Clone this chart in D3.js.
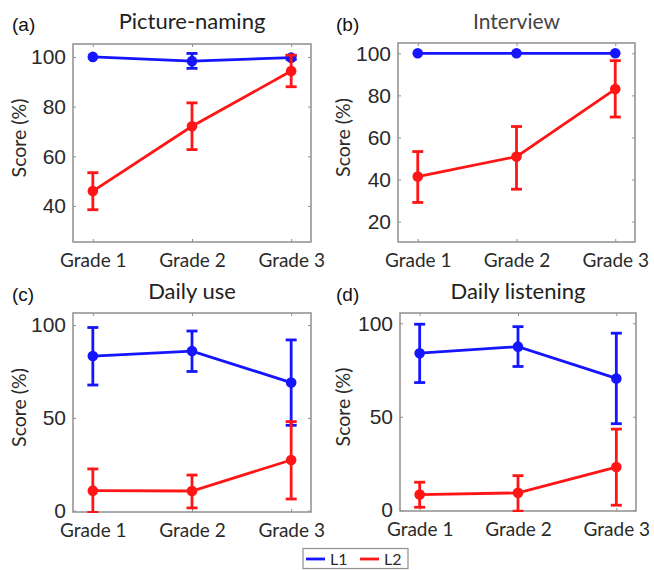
<!DOCTYPE html>
<html><head><meta charset="utf-8">
<script src="https://cdn.jsdelivr.net/npm/d3@7"></script>
<style>body{margin:0;background:#fff}svg{display:block}</style>
</head><body>
<svg id="c" width="654" height="570"></svg>
<script>
const grades = ["Grade 1","Grade 2","Grade 3"];
const gradeNums = [1,2,3];
const panelLabels = ["(a)","(b)","(c)","(d)"];
const panelTitles = ["Picture-naming","Interview","Daily use","Daily listening"];
const seriesNames = ["L1","L2"];
const l1Mean = [[100,98.3,99.7],[100,100,100],[83.3,86,69],[84,87.5,70.5]];
const l1Lo   = [[100,95.4,99],[100,100,100],[67.7,75,46],[68.3,76.9,46.3]];
const l1Hi   = [[100,101.4,100.6],[100,100,100],[98.7,96.8,92],[99.5,98.2,94.7]];
const l2Mean = [[46,72.1,94.3],[41.4,50.9,83],[10.8,10.6,27.3],[8.4,9.3,23.1]];
const l2Lo   = [[38.5,62.7,88],[29.1,35.4,69.7],[-0.9,1.5,6.3],[1.6,-0.5,2.7]];
const l2Hi   = [[53.4,81.5,100.7],[53.3,65.2,96.5],[22.5,19.2,48],[15,18.5,43.4]];
const yDomains = [[25.5,105.2],[10.3,104.9],[-0.7,106.5],[-0.4,105.5]];
const yTicks = [[40,60,80,100],[20,40,60,80,100],[0,50,100],[0,50,100]];

const colors = ["#1515ff","#ff1515"];
const boxes = [
  {x0:73,x1:311,y0:44,y1:242, ox:0, oy:0},
  {x0:398,x1:635,y0:43,y1:242, ox:324, oy:0},
  {x0:73,x1:311,y0:313,y1:512, ox:0, oy:270},
  {x0:400,x1:636,y0:313,y1:511, ox:324, oy:270}
];
const titleSizes = [22,21,22,22];
const svg = d3.select("#c");
const numFont = "'Liberation Sans', Arial, sans-serif";
const txtFont = "Lato, 'Open Sans', sans-serif";

boxes.forEach((b,i)=>{
  const g = svg.append("g");
  const x = d3.scaleLinear().domain([0.8,3.2]).range([b.x0,b.x1]);
  const y = d3.scaleLinear().domain(yDomains[i]).range([b.y1,b.y0]);
  const cid = "clip"+i;
  svg.append("clipPath").attr("id",cid).append("rect")
    .attr("x",b.x0-8).attr("y",b.y0).attr("width",b.x1-b.x0+16).attr("height",b.y1-b.y0+1);
  g.append("rect").attr("x",b.x0).attr("y",b.y0).attr("width",b.x1-b.x0).attr("height",b.y1-b.y0)
    .attr("fill","none").attr("stroke","#8f8f8f").attr("stroke-width",1.5);
  const yl = d3.axisLeft(y).tickValues(yTicks[i]).tickSize(-3).tickPadding(7);
  const ya = g.append("g").attr("transform",`translate(${b.x0},0)`).call(yl);
  ya.select(".domain").remove();
  ya.selectAll("line").attr("stroke","#8f8f8f");
  ya.selectAll("text").attr("font-family",numFont).attr("font-size",21).attr("fill","#2a2a2a");
  const yr = d3.axisRight(y).tickValues(yTicks[i]).tickSize(-3).tickFormat("");
  const yra = g.append("g").attr("transform",`translate(${b.x1},0)`).call(yr);
  yra.select(".domain").remove(); yra.selectAll("line").attr("stroke","#8f8f8f");
  const xb = d3.axisBottom(x).tickValues(gradeNums).tickSize(-3).tickPadding(12).tickFormat((d,k)=>grades[k]);
  const xa = g.append("g").attr("transform",`translate(0,${b.y1})`).call(xb);
  xa.select(".domain").remove(); xa.selectAll("line").attr("stroke","#8f8f8f");
  xa.selectAll("text").attr("font-family",txtFont).attr("font-size",19).attr("fill","#2a2a2a");
  const xt = d3.axisTop(x).tickValues(gradeNums).tickSize(-3).tickFormat("");
  const xta = g.append("g").attr("transform",`translate(0,${b.y0})`).call(xt);
  xta.select(".domain").remove(); xta.selectAll("line").attr("stroke","#8f8f8f");
  g.append("text").attr("transform",`translate(${b.ox+26},${(b.y0+b.y1)/2-5}) rotate(-90)`)
    .attr("text-anchor","middle").attr("font-family",txtFont).attr("font-size",19.5).attr("fill","#2a2a2a")
    .text("Score (%)");
  g.append("text").attr("x",(b.x0+b.x1)/2).attr("y",b.oy+29).attr("text-anchor","middle")
    .attr("font-family",txtFont).attr("font-size",titleSizes[i]).attr("fill", i===1?"#444":"#222")
    .text(panelTitles[i]);
  g.append("text").attr("x",b.ox+12).attr("y",b.oy+31)
    .attr("font-family",numFont).attr("font-size",19).attr("fill","#111").text(panelLabels[i]);
  const series = [[l1Mean[i],l1Lo[i],l1Hi[i]],[l2Mean[i],l2Lo[i],l2Hi[i]]];
  const pg = g.append("g").attr("clip-path",`url(#${cid})`);
  series.forEach((s,si)=>{
    const col = colors[si];
    const pts = gradeNums.map((gn,k)=>({x:gn,m:s[0][k],lo:s[1][k],hi:s[2][k]}));
    pg.append("path").datum(pts)
      .attr("d",d3.line().x(d=>x(d.x)).y(d=>y(d.m)))
      .attr("fill","none").attr("stroke",col).attr("stroke-width",2.8);
    const eb = pg.append("g").selectAll("g").data(pts.filter(d=>d.hi-d.lo>0.01)).join("g");
    eb.append("line").attr("x1",d=>x(d.x)).attr("x2",d=>x(d.x)).attr("y1",d=>y(d.lo)).attr("y2",d=>y(d.hi))
      .attr("stroke",col).attr("stroke-width",2.8);
    eb.append("line").attr("x1",d=>x(d.x)-5.5).attr("x2",d=>x(d.x)+5.5).attr("y1",d=>y(d.lo)).attr("y2",d=>y(d.lo))
      .attr("stroke",col).attr("stroke-width",2.8);
    eb.append("line").attr("x1",d=>x(d.x)-5.5).attr("x2",d=>x(d.x)+5.5).attr("y1",d=>y(d.hi)).attr("y2",d=>y(d.hi))
      .attr("stroke",col).attr("stroke-width",2.8);
    pg.append("g").selectAll("circle").data(pts).join("circle")
      .attr("cx",d=>x(d.x)).attr("cy",d=>y(d.m)).attr("r",5.3).attr("fill",col);
  });
});

const lg = svg.append("g");
lg.append("rect").attr("x",303).attr("y",548.5).attr("width",105).attr("height",20)
  .attr("fill","#fff").attr("stroke","#8f8f8f").attr("stroke-width",1.2);
const legX = [306,360];
seriesNames.forEach((n,k)=>{
  lg.append("line").attr("x1",legX[k]).attr("x2",legX[k]+19).attr("y1",559).attr("y2",559)
    .attr("stroke",colors[k]).attr("stroke-width",2.8);
  lg.append("text").attr("x",legX[k]+24).attr("y",565).attr("font-family",txtFont).attr("font-size",16)
    .attr("fill","#2a2a2a").text(n);
});
</script>
</body></html>
